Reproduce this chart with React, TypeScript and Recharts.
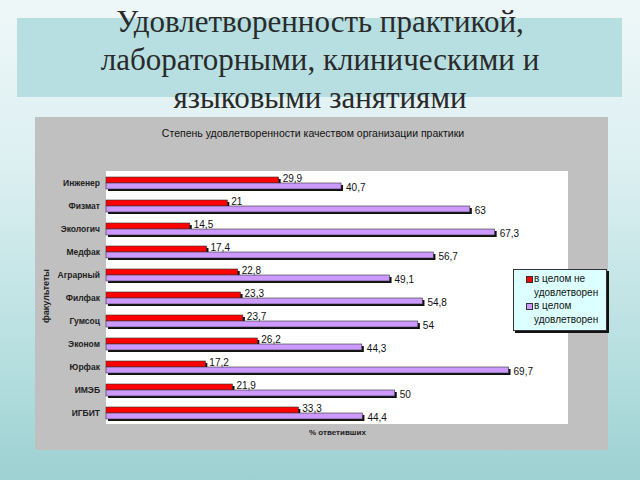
import { Bar, BarChart, CartesianGrid, LabelList, XAxis, YAxis } from "recharts";

const faculties = [
    "Инженер",
    "Физмат",
    "Экологич",
    "Медфак",
    "Аграрный",
    "Филфак",
    "Гумсоц",
    "Эконом",
    "Юрфак",
    "ИМЭБ",
    "ИГБИТ",
];
const notSatisfied = [29.9, 21, 14.5, 17.4, 22.8, 23.3, 23.7, 26.2, 17.2, 21.9, 33.3];
const satisfied = [40.7, 63, 67.3, 56.7, 49.1, 54.8, 54, 44.3, 69.7, 50, 44.4];

const seriesNames = ["в целом не удовлетворен", "в целом удовлетворен"];
const colors = ["#ff0000", "#cc99ff"];

const chartData = faculties.map((name, i) => ({
    name,
    no: notSatisfied[i],
    yes: satisfied[i],
}));

const sans = "'Liberation Sans', Arial, sans-serif";

// 3D-ish bar: black shadow offset down-right, then the coloured face
function ShadowBar(props: any) {
    const { x, y, width, height, fill } = props;
    if (!width || width <= 0) return null;
    return (
        <g>
            <rect x={x + 2} y={y + 2} width={width} height={height} fill="#111" />
            <rect x={x} y={y} width={width} height={height} fill={fill} stroke="#333" strokeWidth={0.6} />
        </g>
    );
}

const fmt = (v: any) => String(v).replace(".", ",");

export default function App() {
    return (
        <div
            style={{
                position: "absolute",
                left: 0,
                top: 0,
                width: 640,
                height: 480,
                overflow: "hidden",
                background: "linear-gradient(to bottom, #eef7f8 0%, #dcefF1 35%, #b6dfe0 75%, #9dd1d2 100%)",
            }}
        >
            <div
                style={{
                    position: "absolute",
                    left: 17,
                    top: 18,
                    width: 605,
                    height: 79,
                    background: "#b7dfe1",
                }}
            />
            <div
                style={{
                    position: "absolute",
                    left: 0,
                    top: 3,
                    width: 640,
                    textAlign: "center",
                    fontFamily: "'Liberation Serif', serif",
                    fontSize: 31,
                    lineHeight: "38px",
                    color: "#2a2a2a",
                }}
            >
                Удовлетворенность практикой,
                <br />
                лабораторными, клиническими и
                <br />
                языковыми занятиями
            </div>

            <div
                style={{
                    position: "absolute",
                    left: 35,
                    top: 117,
                    width: 573,
                    height: 333,
                    background: "#c0c0c0",
                    fontFamily: sans,
                }}
            >
                <div
                    style={{
                        position: "absolute",
                        left: 0,
                        top: 10,
                        width: 556,
                        textAlign: "center",
                        fontSize: 10.5,
                        color: "#111",
                    }}
                >
                    Степень удовлетворенности качеством организации практики
                </div>

                <BarChart
                    width={573}
                    height={333}
                    data={chartData}
                    layout="vertical"
                    margin={{ top: 54, right: 40, bottom: 26, left: 0 }}
                    barGap={0}
                >
                    <CartesianGrid fill="#fff" stroke="none" />
                    <XAxis type="number" domain={[0, 80]} hide />
                    <YAxis
                        type="category"
                        dataKey="name"
                        width={71}
                        axisLine={false}
                        tickLine={false}
                        tickMargin={0}
                        interval={0}
                        tick={{ fontSize: 8.5, fontWeight: "bold", fill: "#222", fontFamily: sans }}
                    />
                    <Bar dataKey="no" fill={colors[0]} barSize={6} shape={ShadowBar} isAnimationActive={false}>
                        <LabelList dataKey="no" position="right" offset={4} formatter={fmt} fontSize={10} fill="#111" dy={-2} />
                    </Bar>
                    <Bar dataKey="yes" fill={colors[1]} barSize={6} shape={ShadowBar} isAnimationActive={false}>
                        <LabelList dataKey="yes" position="right" offset={5} formatter={fmt} fontSize={10} fill="#111" dy={1} />
                    </Bar>
                </BarChart>

                <div
                    style={{
                        position: "absolute",
                        left: 2,
                        top: 180,
                        width: 16,
                        height: 0,
                    }}
                >
                    <div
                        style={{
                            position: "absolute",
                            left: -26,
                            top: -6,
                            width: 70,
                            textAlign: "center",
                            transform: "rotate(-90deg)",
                            fontSize: 9,
                            fontWeight: "bold",
                            color: "#222",
                        }}
                    >
                        факультеты
                    </div>
                </div>

                <div
                    style={{
                        position: "absolute",
                        left: 274,
                        top: 311,
                        fontSize: 8,
                        fontWeight: "bold",
                        color: "#222",
                    }}
                >
                    % ответивших
                </div>

                <div
                    style={{
                        position: "absolute",
                        left: 478,
                        top: 152,
                        width: 94,
                        height: 62,
                        background: "#dcffff",
                        border: "1px solid #333",
                        boxShadow: "2px 2px 0 #111",
                        fontSize: 10,
                        lineHeight: "13.5px",
                        color: "#111",
                        padding: "2px 0 0 0",
                        boxSizing: "border-box",
                    }}
                >
                    {seriesNames.map((n, i) => (
                        <div key={n} style={{ position: "relative", paddingLeft: 20 }}>
                            <span
                                style={{
                                    position: "absolute",
                                    left: 12,
                                    top: 4,
                                    width: 5,
                                    height: 5,
                                    background: colors[i],
                                    border: "1px solid #333",
                                }}
                            />
                            {n.replace(" удовлетворен", "")}
                            <br />
                            удовлетворен
                        </div>
                    ))}
                </div>
            </div>
        </div>
    );
}
